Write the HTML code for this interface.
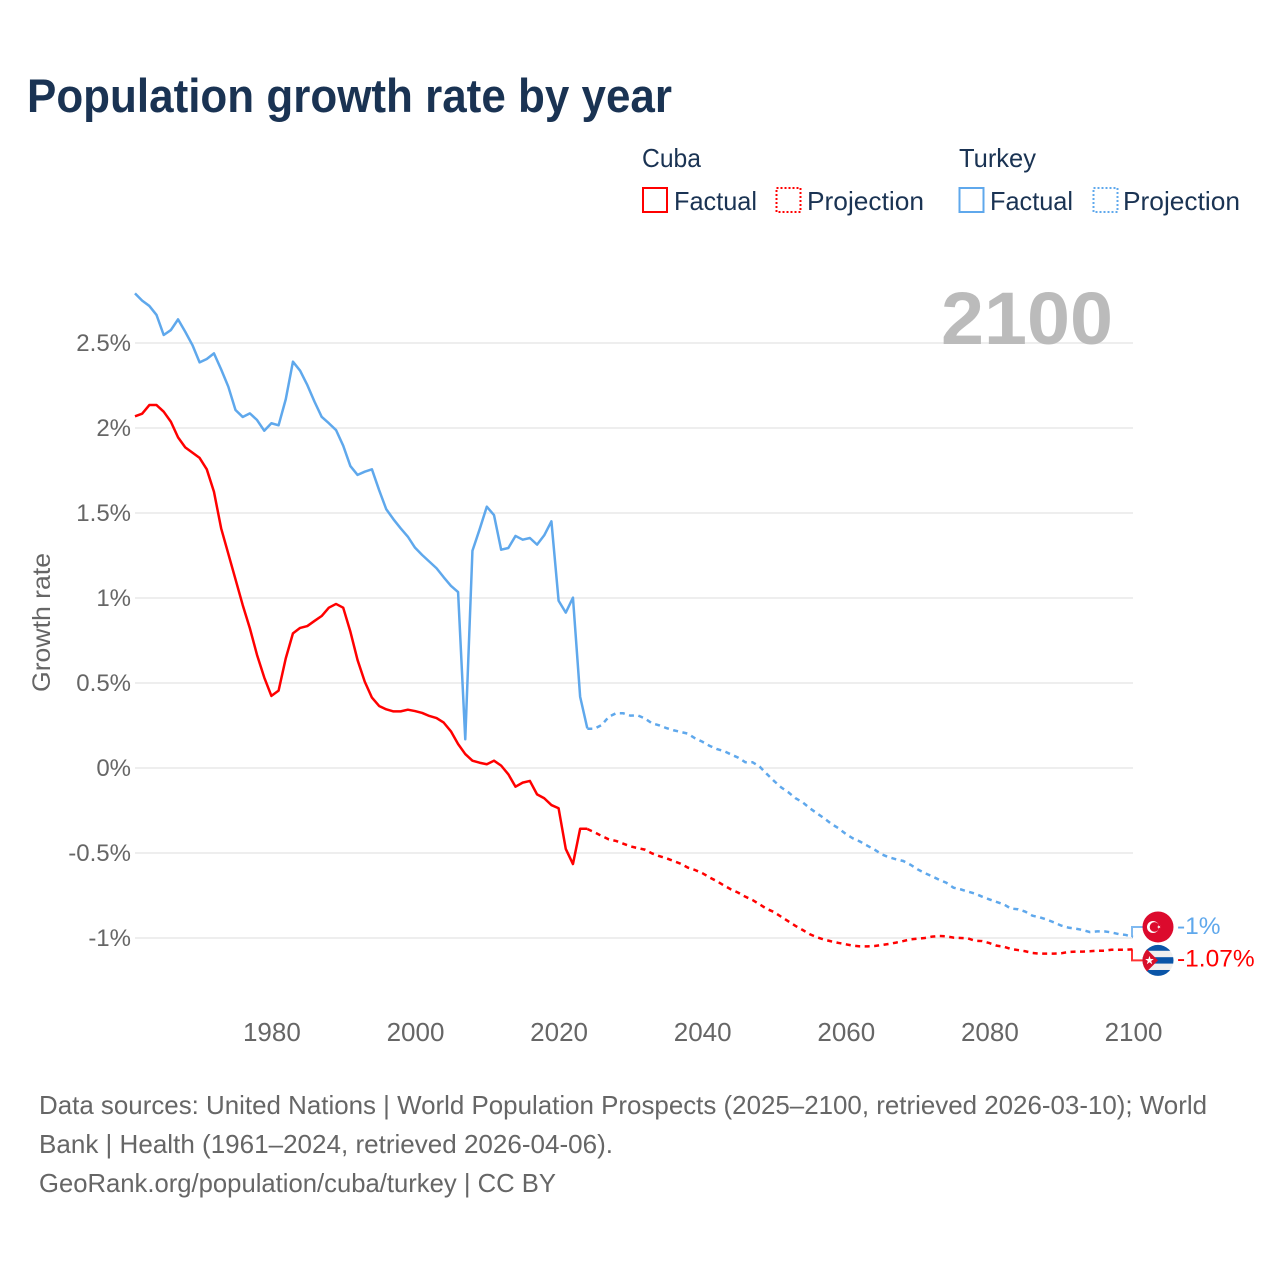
<!DOCTYPE html>
<html lang="en">
<head>
<meta charset="utf-8">
<title>Population growth rate by year</title>
<style>
html,body{margin:0;padding:0;background:#fff;}
svg{display:block;font-family:"Liberation Sans",sans-serif;}
.legend-text{font-size:26px;fill:#1a3353;}
.foot{font-size:26px;fill:#666;}
.tick{font-size:24px;fill:#666;}
</style>
</head>
<body>
<svg id="chart" xmlns="http://www.w3.org/2000/svg" width="1280" height="1280" viewBox="0 0 1280 1280">
  <rect x="0" y="0" width="1280" height="1280" fill="#fff"/>
  <text x="27" y="112" font-size="47" font-weight="700" fill="#1a3353" textLength="645" lengthAdjust="spacingAndGlyphs">Population growth rate by year</text>

  <g>
    <text class="legend-text" x="642" y="167" textLength="59" lengthAdjust="spacingAndGlyphs">Cuba</text>
    <text class="legend-text" x="959" y="167" textLength="77" lengthAdjust="spacingAndGlyphs">Turkey</text>
    <rect x="643" y="188" width="24" height="24" fill="none" stroke="#ff0000" stroke-width="2"/>
    <text class="legend-text" x="674" y="210" textLength="83" lengthAdjust="spacingAndGlyphs">Factual</text>
    <rect x="776.5" y="188" width="24" height="24" fill="none" stroke="#ff0000" stroke-width="2" stroke-dasharray="2 2"/>
    <text class="legend-text" x="807" y="210" textLength="117" lengthAdjust="spacingAndGlyphs">Projection</text>
    <rect x="959.5" y="188" width="24" height="24" fill="none" stroke="#5fa8ec" stroke-width="2"/>
    <text class="legend-text" x="990" y="210" textLength="83" lengthAdjust="spacingAndGlyphs">Factual</text>
    <rect x="1093.5" y="188" width="24" height="24" fill="none" stroke="#5fa8ec" stroke-width="2" stroke-dasharray="2 2"/>
    <text class="legend-text" x="1123" y="210" textLength="117" lengthAdjust="spacingAndGlyphs">Projection</text>
  </g>

  <g id="grid"></g>
  <g id="yticks"></g>
  <g id="xticks"></g>
  <text transform="translate(50 692) rotate(-90)" x="0" y="0" font-size="25" fill="#666" textLength="139" lengthAdjust="spacingAndGlyphs">Growth rate</text>

  <text x="941" y="344" font-size="74" font-weight="700" fill="#bbbbbb" textLength="172" lengthAdjust="spacingAndGlyphs">2100</text>

  <g id="series"></g>

  <defs>
    <clipPath id="flag-clip"><circle cx="0" cy="0" r="15.5"/></clipPath>
  </defs>

  <g id="flag-turkey" clip-path="url(#flag-clip)">
    <rect x="-16" y="-16" width="32" height="32" fill="#dc0a2d"/>
    <circle cx="-5" cy="0" r="6" fill="#fff"/>
    <circle cx="-3.5" cy="0" r="4.8" fill="#dc0a2d"/>
    <polygon points="-1.2,0 2.5,-1.2 0.2,1.9 0.2,-1.9 2.5,1.2" fill="#fff"/>
  </g>
  <g id="flag-cuba" clip-path="url(#flag-clip)">
    <rect x="-16" y="-16" width="32" height="32" fill="#f0f0f0"/>
    <rect x="-16" y="-16" width="32" height="6.4" fill="#0a55a8"/>
    <rect x="-16" y="-3.2" width="32" height="6.4" fill="#0a55a8"/>
    <rect x="-16" y="9.6" width="32" height="6.4" fill="#0a55a8"/>
    <polygon points="-16,-16 0,0 -16,16" fill="#d80f2a"/>
    <polygon points="-8.5,-4.5 -7.4,-1.4 -4.2,-1.4 -6.8,0.6 -5.8,3.8 -8.5,1.9 -11.2,3.8 -10.2,0.6 -12.8,-1.4 -9.6,-1.4" fill="#fff"/>
  </g>
  <text id="end-label-turkey" x="1177" font-size="24.5" fill="#5fa8ec"></text>
  <text id="end-label-cuba" x="1177" font-size="24.5" fill="#ff0000"></text>

  <g>
    <text class="foot" x="39" y="1114" textLength="1168" lengthAdjust="spacingAndGlyphs">Data sources: United Nations | World Population Prospects (2025–2100, retrieved 2026-03-10); World</text>
    <text class="foot" x="39" y="1153" textLength="574" lengthAdjust="spacingAndGlyphs">Bank | Health (1961–2024, retrieved 2026-04-06).</text>
    <text class="foot" x="39" y="1192" textLength="517" lengthAdjust="spacingAndGlyphs">GeoRank.org/population/cuba/turkey | CC BY</text>
  </g>
</svg>
<script>
const yTickValues = [2.5, 2, 1.5, 1, 0.5, 0, -0.5, -1];
const yTickLabels = ['2.5%', '2%', '1.5%', '1%', '0.5%', '0%', '-0.5%', '-1%'];
const xTickYears = [1980, 2000, 2020, 2040, 2060, 2080, 2100];
const factualStartYear = 1961;
const projectionStartYear = 2024;
const endValueLabels = { turkey: '-1%', cuba: '-1.07%' };

const cubaFactual = [2.069,2.084,2.135,2.135,2.096,2.037,1.945,1.886,1.855,1.824,1.757,1.625,1.41,1.26,1.11,0.959,0.822,0.665,0.533,0.424,0.455,0.645,0.792,0.824,0.835,0.865,0.894,0.943,0.965,0.943,0.802,0.635,0.508,0.414,0.365,0.345,0.333,0.333,0.343,0.335,0.324,0.306,0.294,0.267,0.216,0.141,0.082,0.043,0.031,0.022,0.043,0.014,-0.037,-0.11,-0.086,-0.076,-0.155,-0.178,-0.218,-0.237,-0.476,-0.565,-0.357,-0.357];

const turkeyFactual = [2.792,2.749,2.718,2.665,2.547,2.576,2.639,2.566,2.488,2.386,2.406,2.439,2.345,2.243,2.106,2.065,2.086,2.047,1.984,2.028,2.016,2.169,2.39,2.337,2.253,2.155,2.066,2.028,1.988,1.896,1.776,1.724,1.743,1.757,1.635,1.522,1.463,1.41,1.361,1.296,1.253,1.214,1.175,1.122,1.072,1.035,0.169,1.278,1.404,1.537,1.488,1.284,1.294,1.365,1.343,1.353,1.314,1.369,1.451,0.984,0.914,1.002,0.419,0.233];

const cubaProjection = [-0.359,-0.378,-0.4,-0.42,-0.429,-0.445,-0.461,-0.471,-0.48,-0.502,-0.518,-0.531,-0.547,-0.563,-0.586,-0.6,-0.618,-0.643,-0.665,-0.69,-0.714,-0.733,-0.757,-0.776,-0.802,-0.829,-0.847,-0.875,-0.902,-0.929,-0.953,-0.978,-0.996,-1.01,-1.02,-1.029,-1.037,-1.045,-1.049,-1.049,-1.047,-1.041,-1.035,-1.027,-1.018,-1.008,-1.004,-1.0,-0.992,-0.988,-0.99,-0.998,-1.0,-1.002,-1.016,-1.018,-1.03,-1.045,-1.051,-1.065,-1.071,-1.078,-1.088,-1.092,-1.092,-1.092,-1.09,-1.082,-1.08,-1.08,-1.078,-1.075,-1.075,-1.069,-1.069,-1.069,-1.067];

const turkeyProjection = [0.231,0.231,0.253,0.302,0.322,0.322,0.308,0.31,0.292,0.263,0.251,0.235,0.222,0.212,0.202,0.175,0.155,0.131,0.112,0.1,0.08,0.061,0.034,0.034,0.008,-0.035,-0.076,-0.114,-0.143,-0.178,-0.202,-0.237,-0.267,-0.296,-0.329,-0.355,-0.388,-0.414,-0.433,-0.457,-0.48,-0.508,-0.525,-0.537,-0.547,-0.569,-0.596,-0.618,-0.637,-0.657,-0.675,-0.704,-0.714,-0.727,-0.739,-0.757,-0.773,-0.788,-0.802,-0.827,-0.831,-0.845,-0.869,-0.878,-0.892,-0.908,-0.927,-0.939,-0.945,-0.953,-0.965,-0.961,-0.961,-0.967,-0.977,-0.982,-0.994];

const SVG_NS = 'http://www.w3.org/2000/svg';
const RED = '#ff0000';
const BLUE = '#5fa8ec';

function xScale(year) { return 1133 - (2100 - year) * 7.18; }
function yScale(value) { return 768 - value * 170; }

function make(tag, attrs, parent) {
  const el = document.createElementNS(SVG_NS, tag);
  for (const k in attrs) el.setAttribute(k, attrs[k]);
  parent.appendChild(el);
  return el;
}

function linePath(values, startYear) {
  return values.map((v, i) => (i ? 'L' : 'M') + xScale(startYear + i).toFixed(2) + ' ' + yScale(v).toFixed(2)).join(' ');
}

const gridGroup = document.getElementById('grid');
const yTickGroup = document.getElementById('yticks');
const xTickGroup = document.getElementById('xticks');
const seriesGroup = document.getElementById('series');

yTickValues.forEach((v, i) => {
  const line = make('line', { x1: 135, x2: 1133, y1: yScale(v), y2: yScale(v), stroke: '#e8e8e8', 'stroke-width': 1.5 }, gridGroup);
  
  
  const label = make('text', { x: 131, y: yScale(v) + 8, 'text-anchor': 'end', class: 'tick' }, yTickGroup);
  
  
  label.textContent = yTickLabels[i];
});

xTickYears.forEach((year) => {
  const label = make('text', { x: xScale(year) + 0.5, y: 1041, 'text-anchor': 'middle', class: 'tick', style: 'font-size:26px' }, xTickGroup);
  
  
  label.textContent = String(year);
});

const cubaFactualLine = make('path', { d: linePath(cubaFactual, factualStartYear), fill: 'none', stroke: RED, 'stroke-width': 2.5, 'stroke-linejoin': 'round' }, seriesGroup);



const turkeyFactualLine = make('path', { d: linePath(turkeyFactual, factualStartYear), fill: 'none', stroke: BLUE, 'stroke-width': 2.5, 'stroke-linejoin': 'round' }, seriesGroup);



const cubaProjectionLine = make('path', { d: linePath(cubaProjection, projectionStartYear), fill: 'none', stroke: RED, 'stroke-width': 2.5, 'stroke-dasharray': '5 4.5' }, seriesGroup);



const turkeyProjectionLine = make('path', { d: linePath(turkeyProjection, projectionStartYear), fill: 'none', stroke: BLUE, 'stroke-width': 2.5, 'stroke-dasharray': '5 4.5' }, seriesGroup);



const turkeyEndValue = turkeyProjection[turkeyProjection.length - 1];
const cubaEndValue = cubaProjection[cubaProjection.length - 1];
const turkeyMarkerY = yScale(turkeyEndValue) - 10;
const cubaMarkerY = yScale(cubaEndValue) + 11;
const endX = xScale(2100);

const turkeyConnector = make('path', { d: 'M' + (endX - 1) + ' ' + yScale(turkeyEndValue) + ' L' + (endX - 1) + ' ' + turkeyMarkerY + ' L' + (endX + 10) + ' ' + turkeyMarkerY, fill: 'none', stroke: BLUE, 'stroke-width': 2, opacity: 0.8 }, seriesGroup);



const cubaConnector = make('path', { d: 'M' + (endX - 1) + ' ' + yScale(cubaEndValue) + ' L' + (endX - 1) + ' ' + cubaMarkerY + ' L' + (endX + 10) + ' ' + cubaMarkerY, fill: 'none', stroke: RED, 'stroke-width': 2, opacity: 0.8 }, seriesGroup);



document.getElementById('flag-turkey').setAttribute('transform', 'translate(1158 ' + turkeyMarkerY + ')');
document.getElementById('flag-cuba').setAttribute('transform', 'translate(1158 ' + cubaMarkerY + ')');

const turkeyEndLabel = document.getElementById('end-label-turkey');
turkeyEndLabel.setAttribute('y', turkeyMarkerY + 7);
turkeyEndLabel.textContent = endValueLabels.turkey;

const cubaEndLabel = document.getElementById('end-label-cuba');
cubaEndLabel.setAttribute('y', cubaMarkerY + 6);
cubaEndLabel.textContent = endValueLabels.cuba;
</script>
</body>
</html>
